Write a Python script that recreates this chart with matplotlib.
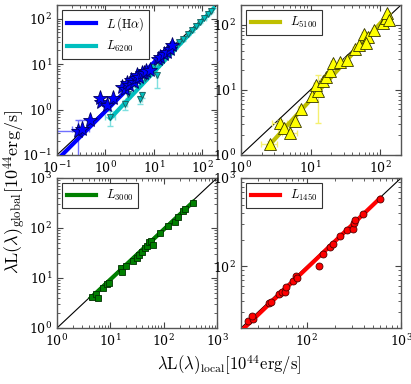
import numpy as np
import matplotlib
matplotlib.use('Agg')
import matplotlib.pyplot as plt
from matplotlib.ticker import LogLocator, NullFormatter

plt.rcParams['mathtext.fontset'] = 'cm'
plt.rcParams['font.family'] = 'serif'
plt.rcParams['font.serif'] = ['DejaVu Serif']

# ---- data ----
# L(Halpha): local vs global
ha_x = [0.27, 0.33, 0.49, 0.81, 0.78, 1.08, 1.43, 2.2, 2.5, 2.8, 3.1, 3.4, 3.8,
        4.2, 4.5, 5.0, 5.6, 6.1, 7.0, 8.4, 12.0, 13.5, 16.0, 18.6, 21.0, 23.6]
ha_y = [0.33, 0.38, 0.59, 1.49, 1.8, 1.26, 1.83, 3.2, 2.8, 3.8, 3.5, 4.4, 4.0,
        4.9, 5.8, 5.3, 6.3, 6.3, 6.9, 7.4, 13.0, 14.6, 17.0, 18.8, 22.0, 26.0]
ha_xerr_lo = [0.17, 0.13, 0, 0, 0, 0, 0, 0, 0, 0, 0, 0, 0, 0, 0, 0, 0, 0, 0, 0, 0, 0, 0, 0, 0, 0]
ha_xerr_hi = [0.02, 0.12, 0, 0, 0, 0, 0, 0, 0, 0, 0, 0, 0, 0, 0, 0, 0, 0, 0, 0, 0, 0, 0, 0, 0, 0]
ha_yerr_lo = [0.25, 0.0, 0, 0, 0, 0, 0, 0, 0, 0, 0, 0, 0, 0, 0, 0, 0, 0, 0, 0, 0, 0, 0, 0, 0, 0]
ha_yerr_hi = [0.27, 0.22, 0, 0, 0, 0, 0, 0, 0, 0, 0, 0, 0, 0, 0, 0, 0, 0, 0, 0, 0, 0, 0, 0, 0, 0]

# L6200
c62_x = [1.26, 2.57, 2.98, 5.25, 5.7, 4.0, 5.1, 6.5, 8.0, 9.5, 11.6, 12.5, 15.0,
         18.0, 22.0, 27.0, 33.0, 40.0, 50.0, 60.0, 75.0, 90.0, 110.0, 130.0, 150.0]
c62_y = [0.69, 1.30, 2.16, 1.68, 2.1, 3.6, 6.7, 5.0, 6.8, 8.5, 5.8, 11.0, 13.0,
         16.0, 19.0, 24.0, 30.0, 36.0, 47.0, 55.0, 70.0, 85.0, 105.0, 125.0, 145.0]
c62_yerr = [0.25, 0.3, 0.4, 0.35, 0.3, 0.5, 0.9, 0.6, 0.8, 0.9, 2.8, 1.0, 1.2,
            1.2, 1.5, 2.0, 2.0, 3.0, 3.0, 4.0, 5.0, 5.0, 6.0, 7.0, 8.0]
c62_xerr = [0.3, 0.2, 0.2, 0.3, 0.3, 0.3, 0.4, 0.4, 0.5, 0.5, 0.6, 0.6, 0.8,
            1.0, 1.0, 1.5, 2.0, 2.0, 3.0, 3.0, 4.0, 5.0, 6.0, 7.0, 8.0]

# L5100
y51_x = [2.64, 3.68, 4.2, 5.1, 5.98, 7.3, 10.5, 12.9, 12.1, 14.9, 16.5, 19.3, 20.8,
         26.8, 33.5, 44.0, 50.0, 59.0, 67.0, 63.0, 83.0, 109.0, 121.0, 126.0, 135.0]
y51_y = [1.46, 3.06, 2.63, 2.15, 3.3, 5.1, 8.0, 9.6, 11.9, 13.6, 15.5, 19.4, 25.5,
         27.0, 28.7, 43.0, 48.7, 72.0, 64.0, 52.0, 83.0, 105.0, 125.0, 149.0, 118.0]
y51_xerr = [0.7, 0.9, 0.8, 1.2, 0.5, 0.6, 0.7, 0.8, 0.8, 1.0, 1.0, 1.2, 1.2,
            1.5, 2.0, 2.5, 3.0, 3.0, 3.5, 3.5, 4.0, 5.0, 5.0, 6.0, 6.0]
y51_yerr_lo = [0.2, 0.4, 0.3, 0.3, 0.4, 0.6, 0.8, 6.5, 1.0, 1.0, 1.2, 1.5, 2.0,
               2.0, 2.0, 3.0, 3.0, 4.0, 4.0, 4.0, 5.0, 6.0, 6.0, 7.0, 7.0]
y51_yerr_hi = [0.2, 0.4, 0.3, 0.3, 0.4, 0.6, 0.8, 7.0, 1.0, 1.0, 1.2, 1.5, 2.0,
               2.0, 2.0, 3.0, 3.0, 4.0, 4.0, 4.0, 5.0, 6.0, 6.0, 7.0, 7.0]

# L3000
g30_x = [4.47, 5.4, 5.8, 7.4, 8.8, 9.6, 15.6, 16.3, 19.7, 27.0, 31.0, 35.0, 40.0,
         44.5, 48.0, 54.0, 59.0, 64.0, 85.0, 121.0, 163.0, 188.0, 228.0, 250.0, 350.0]
g30_y = [4.2, 4.7, 4.0, 6.4, 7.5, 7.8, 15.6, 13.4, 17.7, 21.8, 25.4, 29.0, 32.6,
         39.0, 44.0, 53.0, 55.0, 46.0, 81.0, 111.0, 134.0, 167.0, 218.0, 239.0, 316.0]

# L1450
r14_x = [23.9, 26.6, 26.0, 39.7, 42.0, 51.0, 54.5, 58.6, 60.0, 70.6, 76.8, 78.0,
         135.8, 150.0, 176.0, 191.0, 227.0, 270.0, 307.0, 317.0, 325.0, 392.0, 593.0]
r14_y = [24.2, 25.5, 27.5, 38.7, 39.0, 48.0, 50.6, 51.6, 58.6, 68.5, 77.0, 74.0,
         101.6, 139.0, 167.0, 177.0, 218.0, 261.0, 264.0, 307.0, 333.0, 389.0, 575.0]

# fit lines: (amplitude, slope, x range)
fit_ha = (0.917, 1.073, 0.127, 25.0)
fit_62 = (0.49, 1.137, 1.26, 170.0)
fit_51 = (0.473, 1.171, 2.55, 135.0)
fit_30 = (0.93, 1.0, 4.3, 360.0)
fit_14 = (0.87, 1.0196, 22.0, 600.0)

limits = {'tl': (0.1, 200), 'tr': (1, 200), 'bl': (1, 1000), 'br': (20, 1000)}


def fitline(ax, fit, color, label):
    a, b, lo, hi = fit
    xx = np.logspace(np.log10(lo), np.log10(hi), 50)
    ax.plot(xx, a * xx ** b, color=color, lw=3, label=label, zorder=3)


def style(ax, lim):
    ax.set_xscale('log')
    ax.set_yscale('log')
    ax.set_xlim(lim)
    ax.set_ylim(lim)
    ax.plot(lim, lim, color='k', lw=0.8, zorder=2)
    ax.xaxis.set_major_locator(LogLocator(base=10))
    ax.yaxis.set_major_locator(LogLocator(base=10))
    ax.xaxis.set_minor_locator(LogLocator(base=10, subs=np.arange(2, 10)))
    ax.yaxis.set_minor_locator(LogLocator(base=10, subs=np.arange(2, 10)))
    ax.xaxis.set_minor_formatter(NullFormatter())
    ax.yaxis.set_minor_formatter(NullFormatter())
    ax.tick_params(which='both', direction='in', top=True, right=True, labelsize=9,
                   color='#444444')
    ax.tick_params(which='major', length=4)
    ax.tick_params(which='minor', length=2)
    for s in ax.spines.values():
        s.set_color('#555555')
        s.set_linewidth(1.0)


def legend(ax):
    leg = ax.legend(loc='upper left', fontsize=9, fancybox=False, framealpha=1,
                    edgecolor='#333333', handlelength=2.3, borderaxespad=0.4)
    leg.get_frame().set_linewidth(0.8)


fig = plt.figure(figsize=(4.11, 3.84), dpi=100)
W, H = 411.0, 384.0
ax_tl = fig.add_axes([57 / W, (384 - 155) / H, 160 / W, 150 / H])
ax_tr = fig.add_axes([241 / W, (384 - 155) / H, 160 / W, 150 / H])
ax_bl = fig.add_axes([57 / W, (384 - 328) / H, 160 / W, 150 / H])
ax_br = fig.add_axes([241 / W, (384 - 328) / H, 160 / W, 150 / H])

# top left
ax = ax_tl
style(ax, limits['tl'])
ax.errorbar(c62_x, c62_y, xerr=c62_xerr, yerr=c62_yerr, fmt='none',
            ecolor='#7fe0e0', elinewidth=1, capsize=2, zorder=2.5)
ax.errorbar(ha_x, ha_y, xerr=[ha_xerr_lo, ha_xerr_hi], yerr=[ha_yerr_lo, ha_yerr_hi],
            fmt='none', ecolor='#7070ff', elinewidth=1, capsize=2, zorder=2.5)
fitline(ax, fit_ha, 'blue', r'$L\,(\mathrm{H}\alpha)$')
fitline(ax, fit_62, 'c', r'$L_{6200}$')
ax.plot(c62_x, c62_y, 'v', color='c', mec='#1a5a5a', mew=0.6, ms=4.5, zorder=4)
ax.plot(ha_x, ha_y, '*', color='blue', mec='#000060', mew=0.6, ms=11, zorder=4)
legend(ax)

# top right
ax = ax_tr
style(ax, limits['tr'])
ax.errorbar(y51_x, y51_y, xerr=y51_xerr, yerr=[y51_yerr_lo, y51_yerr_hi], fmt='none',
            ecolor='#f5f070', elinewidth=1, capsize=2, zorder=2.5)
fitline(ax, fit_51, '#bfbf00', r'$L_{5100}$')
ax.plot(y51_x, y51_y, '^', color='yellow', mec='#333300', mew=0.6, ms=8, zorder=4)
legend(ax)

# bottom left
ax = ax_bl
style(ax, limits['bl'])
fitline(ax, fit_30, 'g', r'$L_{3000}$')
ax.plot(g30_x, g30_y, 's', color='g', mec='#003000', mew=0.6, ms=5, zorder=4)
legend(ax)

# bottom right
ax = ax_br
style(ax, limits['br'])
fitline(ax, fit_14, 'red', r'$L_{1450}$')
ax.plot(r14_x, r14_y, 'o', color='red', mec='#500000', mew=0.6, ms=5, zorder=4)
legend(ax)

fig.text(0.037, 0.5, r'$\lambda\mathrm{L}(\lambda)_{\mathrm{global}}[10^{44}\mathrm{erg/s}]$',
         rotation=90, ha='center', va='center', fontsize=13)
fig.text(0.557, 0.048, r'$\lambda\mathrm{L}(\lambda)_{\mathrm{local}}[10^{44}\mathrm{erg/s}]$',
         ha='center', va='center', fontsize=12)

fig.savefig('out.png', dpi=100)
